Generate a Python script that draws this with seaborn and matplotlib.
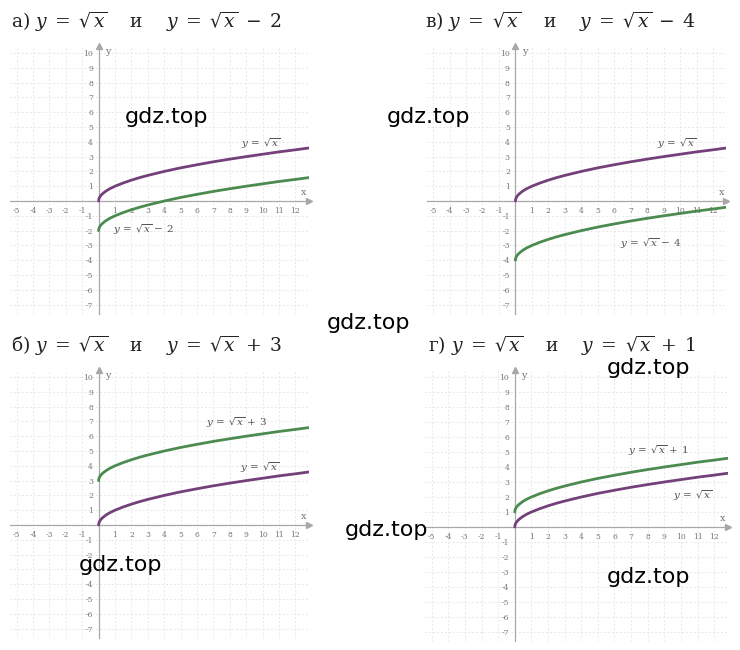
import numpy as np
import pandas as pd
import matplotlib
matplotlib.use("Agg")
import matplotlib.pyplot as plt
import seaborn as sns

# ---- data ----
x_vals = [0, 0.01, 0.04, 0.1, 0.2, 0.35, 0.5, 0.7, 1, 1.5, 2, 2.5, 3, 4, 5, 6, 7, 8, 9, 10, 11, 12, 12.8]
sqrt_vals = [0, 0.10, 0.20, 0.32, 0.45, 0.59, 0.71, 0.84, 1.0, 1.22, 1.41, 1.58, 1.73, 2.0, 2.24,
             2.45, 2.65, 2.83, 3.0, 3.16, 3.32, 3.46, 3.58]
panel_letters = ["а", "в", "б", "г"]
shifts = [-2, -4, 3, 1]
x_ticks = [-5, -4, -3, -2, -1, 1, 2, 3, 4, 5, 6, 7, 8, 9, 10, 11, 12]
y_ticks = [-7, -6, -5, -4, -3, -2, -1, 1, 2, 3, 4, 5, 6, 7, 8, 9, 10]

# label positions (data coords) for base and shifted curve annotations
base_label_pos = [(9.9, 3.9), (9.8, 3.9), (9.8, 3.9), (10.7, 2.1)]
shift_label_pos = [(2.7, -1.96), (8.2, -2.85), (8.4, 6.9), (8.6, 5.1)]

PURPLE = "#74407a"
GREEN = "#4b8b4f"

sns.set_style("white")
plt.rcParams["font.family"] = ["DejaVu Serif"]
plt.rcParams["mathtext.fontset"] = "dejavuserif"

W, H = 740, 650
fig = plt.figure(figsize=(W / 100, H / 100), dpi=100)

# axes rectangles in pixels: left, top, right, bottom
rects = [(10, 45.6, 308.6, 313.5), (426.5, 45.6, 726.2, 313.5),
         (10, 369.6, 308.6, 637.5), (425, 369.5, 727.5, 641)]
title_pos = [(11, 28), (425, 28), (11, 352), (428, 352)]

def fmt_shift(s):
    return (r"\;-\;" if s < 0 else r"\;+\;") + str(abs(s))

for i in range(4):
    l, t, r, b = rects[i]
    ax = fig.add_axes([l / W, (H - b) / H, (r - l) / W, (b - t) / H])
    s = shifts[i]
    df = pd.DataFrame({
        "x": x_vals * 2,
        "y": sqrt_vals + [v + s for v in sqrt_vals],
        "curve": ["base"] * len(x_vals) + ["shift"] * len(x_vals),
    })
    # grid
    for gx in range(-5, 13):
        ax.axvline(gx, color="#e8e8e8", lw=0.7, ls=(0, (2, 2)), zorder=0)
    for gy in range(-7, 11):
        ax.axhline(gy, color="#e8e8e8", lw=0.7, ls=(0, (2, 2)), zorder=0)
    sns.lineplot(data=df, x="x", y="y", hue="curve",
                 palette={"base": PURPLE, "shift": GREEN},
                 linewidth=2.0, legend=False, ax=ax, sort=False, zorder=3)
    ax.set_xlim(-5.4, 12.8)
    ax.set_ylim(-7.6, 10.5)
    ax.set_xlabel("")
    ax.set_ylabel("")
    for sp in ["top", "right"]:
        ax.spines[sp].set_visible(False)
    ax.spines["left"].set_position(("data", 0))
    ax.spines["bottom"].set_position(("data", 0))
    for sp in ["left", "bottom"]:
        ax.spines[sp].set_color("#a8a8a8")
        ax.spines[sp].set_linewidth(0.9)
    ax.set_xticks(x_ticks)
    ax.set_yticks(y_ticks)
    ax.set_xticklabels([str(v) for v in x_ticks])
    ax.set_yticklabels([str(v) for v in y_ticks])
    ax.tick_params(axis="both", direction="inout", length=4, width=0.6, color="#a8a8a8",
                   labelsize=5.5, labelcolor="#777777", pad=2)
    # arrows
    ax.plot(1, 0, marker=">", ms=4, color="#a8a8a8", transform=ax.get_yaxis_transform(), clip_on=False)
    ax.plot(0, 1, marker="^", ms=4, color="#a8a8a8", transform=ax.get_xaxis_transform(), clip_on=False)
    ax.text(12.5, 0.55, "x", fontsize=7, color="#777777", ha="center", va="center")
    ax.text(0.55, 10.1, "y", fontsize=7, color="#777777", ha="center", va="center")
    # curve labels
    bx, by = base_label_pos[i]
    ax.text(bx, by, r"$y\,=\,\sqrt{x}$", fontsize=7.5, color="#555555", ha="center", va="center")
    sx, sy = shift_label_pos[i]
    ax.text(sx, sy, r"$y\,=\,\sqrt{x}" + fmt_shift(s).replace(r"\;", r"\,") + r"$", fontsize=7.5,
            color="#555555", ha="center", va="center")
    # title
    tx, ty = title_pos[i]
    fig.text(tx / W, 1 - ty / H,
             panel_letters[i] + r") $y\;=\;\sqrt{x}$    и    $y\;=\;\sqrt{x}" + fmt_shift(s) + r"$",
             fontsize=13.5, color="#222222", ha="left", va="baseline")

# watermarks
marks = [(166, 117), (429, 117), (369, 323), (649, 368), (386, 530), (121, 565), (649, 577)]
for mx, my in marks:
    fig.text(mx / W, 1 - my / H, "gdz.top", fontsize=16, family="DejaVu Sans",
             color="black", ha="center", va="center")

fig.savefig("out.png", dpi=100)
